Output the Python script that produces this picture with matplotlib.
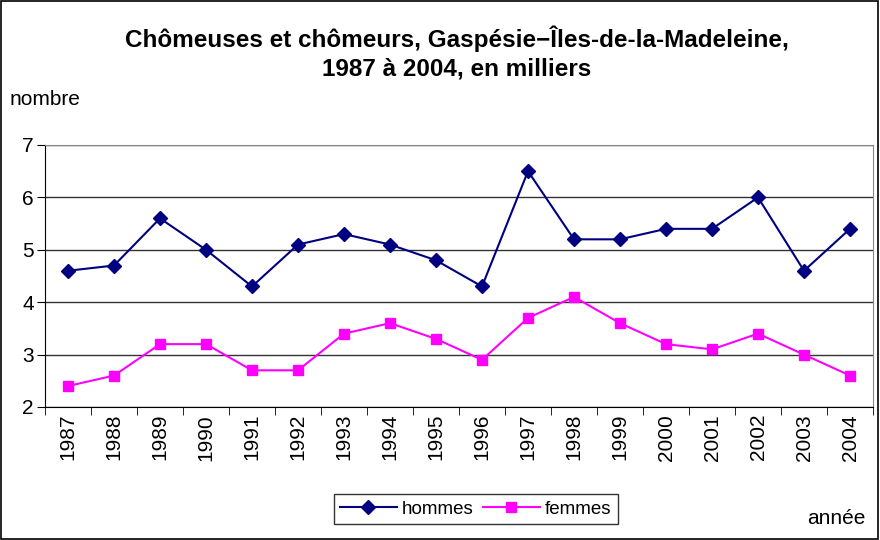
import matplotlib
matplotlib.use("Agg")
import matplotlib.pyplot as plt
from matplotlib.patches import Rectangle

plt.rcParams['font.family'] = ['Liberation Sans', 'DejaVu Sans']

years = [str(y) for y in range(1987, 2005)]
hommes = [4.6, 4.7, 5.6, 5.0, 4.3, 5.1, 5.3, 5.1, 4.8, 4.3, 6.5, 5.2, 5.2, 5.4, 5.4, 6.0, 4.6, 5.4]
femmes = [2.4, 2.6, 3.2, 3.2, 2.7, 2.7, 3.4, 3.6, 3.3, 2.9, 3.7, 4.1, 3.6, 3.2, 3.1, 3.4, 3.0, 2.6]
y_ticks = [2, 3, 4, 5, 6, 7]

fig = plt.figure(figsize=(8.8, 5.4), dpi=100)
ax = fig.add_axes([45 / 880, 1 - 407 / 540, 828 / 880, 262 / 540])

x = list(range(len(years)))
ax.plot(x, hommes, color='#000080', marker='D', markersize=7, linewidth=1.5, label='hommes')
ax.plot(x, femmes, color='#FF00FF', marker='s', markersize=7, linewidth=1.5, label='femmes')

ax.set_xlim(-0.5, len(years) - 0.5)
ax.set_ylim(2, 7)
ax.set_yticks(y_ticks)
ax.set_yticklabels([str(v) for v in y_ticks], fontsize=15)
ax.yaxis.grid(True, color='#333333', linewidth=1)
ax.set_axisbelow(True)

ax.set_xticks(x)
ax.set_xticklabels(years, rotation=90, fontsize=15)
ax.tick_params(axis='x', which='major', length=0, pad=5)
ax.set_xticks([i - 0.5 for i in range(len(years) + 1)], minor=True)
ax.tick_params(axis='x', which='minor', length=6, direction='out', color='black')
ax.tick_params(axis='y', length=6, direction='out', pad=2)

for s in ['top', 'right']:
    ax.spines[s].set_color('#888888')
for s in ['left', 'bottom']:
    ax.spines[s].set_color('black')

fig.text(0.519, 1 - 53 / 540, 'Chômeuses et chômeurs, Gaspésie−Îles-de-la-Madeleine,\n1987 à 2004, en milliers',
         ha='center', va='center', fontsize=17.5, fontweight='bold', linespacing=1.35)
fig.text(10 / 880, 1 - 100 / 540, 'nombre', ha='left', va='center', fontsize=15)
fig.text(865 / 880, 1 - 518 / 540, 'année', ha='right', va='center', fontsize=15)

leg = fig.legend(loc='center', bbox_to_anchor=(476 / 880, 1 - 509 / 540), ncol=2, fontsize=13.5,
                 frameon=True, fancybox=False, edgecolor='black', handlelength=3,
                 columnspacing=0.5, handletextpad=0.3, borderpad=0.35)
leg.get_frame().set_linewidth(1)

fig.patches.append(Rectangle((0.001, 0.002), 0.997, 0.996, transform=fig.transFigure,
                             fill=False, edgecolor='black', linewidth=1.2))

fig.savefig('out.png', dpi=100)
